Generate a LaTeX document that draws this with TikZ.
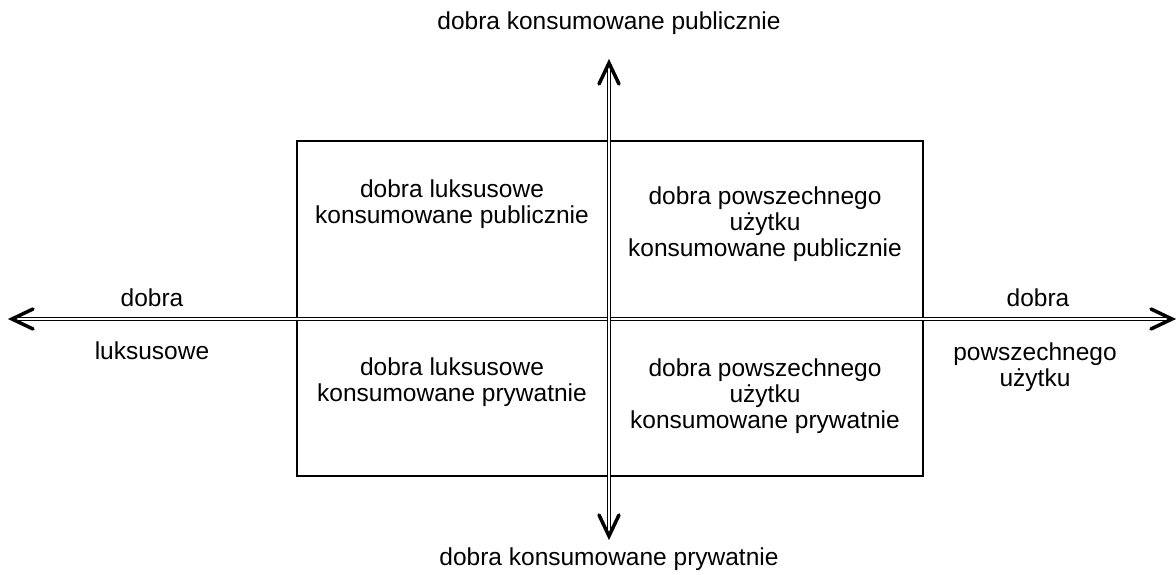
\documentclass[tikz,border=0pt]{standalone}
\usepackage{fontspec}
\setmainfont{Liberation Sans}
\begin{document}
\begin{tikzpicture}[x=1pt,y=-1pt,
  axis/.style={draw=black,line width=1pt,double=white,double distance=2pt},
  tiphead/.style={draw=black,line width=3.5pt,line cap=round,line join=miter},
  frame/.style={draw=black,line width=2pt},
  lbl/.style={inner sep=0pt,align=center,font=\fontsize{24.5}{26}\selectfont}]
\useasboundingbox (0,0) rectangle (1176,575);
\node[frame,minimum width=626pt,minimum height=335pt,anchor=north west,inner sep=0pt] (box) at (296,140) {};
\coordinate (L) at (12,319);
\coordinate (R) at (1172,319);
\coordinate (T) at (609,63);
\coordinate (B) at (609,536);
\draw[axis] (L) -- (R);
\draw[axis] (T) -- (B);
\draw[tiphead] ([xshift=21pt,yshift=10pt]L) -- (L) -- ([xshift=21pt,yshift=-10pt]L);
\draw[tiphead] ([xshift=-21pt,yshift=10pt]R) -- (R) -- ([xshift=-21pt,yshift=-10pt]R);
\draw[tiphead] ([xshift=-10pt,yshift=-21pt]T) -- (T) -- ([xshift=10pt,yshift=-21pt]T);
\draw[tiphead] ([xshift=-10pt,yshift=21pt]B) -- (B) -- ([xshift=10pt,yshift=21pt]B);
\node[lbl] (top) at (609,23) {dobra konsumowane publicznie};
\node[lbl] (bot) at (609,559) {dobra konsumowane prywatnie};
\node[lbl] (l1) at (152,298) {dobra};
\node[lbl] (l2) at (152,351) {luksusowe};
\node[lbl] (r1) at (1038,298) {dobra};
\node[lbl] (r2) at (1035,367) {powszechnego\\użytku};
\node[lbl] (q1) at (452,204) {dobra luksusowe\\konsumowane publicznie};
\node[lbl] (q2) at (765,224) {dobra powszechnego\\użytku\\konsumowane publicznie};
\node[lbl] (q3) at (452,382) {dobra luksusowe\\konsumowane prywatnie};
\node[lbl] (q4) at (765,396) {dobra powszechnego\\użytku\\konsumowane prywatnie};
\end{tikzpicture}
\end{document}
